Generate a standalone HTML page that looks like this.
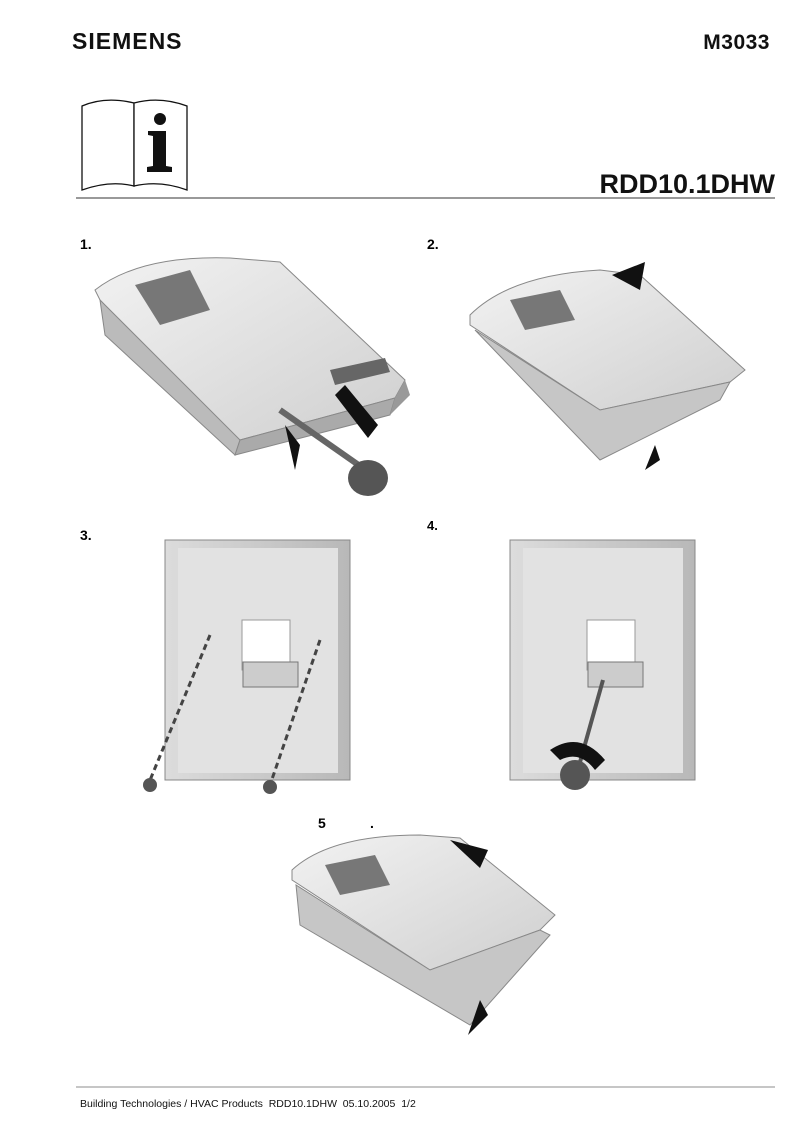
<!DOCTYPE html>
<html><head><meta charset="utf-8"><style>
html,body{margin:0;padding:0;background:#fff;}
svg{display:block}
text{font-family:"Liberation Sans",Arial,sans-serif;}
</style></head><body>
<svg width="802" height="1134" viewBox="0 0 802 1134" xmlns="http://www.w3.org/2000/svg">
<defs>
<linearGradient id="g1" x1="0" y1="0" x2="1" y2="1"><stop offset="0" stop-color="#f2f2f2"/><stop offset="1" stop-color="#cfcfcf"/></linearGradient>
<linearGradient id="g2" x1="0" y1="0" x2="1" y2="0"><stop offset="0" stop-color="#dcdcdc"/><stop offset="1" stop-color="#b8b8b8"/></linearGradient>
</defs>
<text x="72" y="49" font-size="23" font-weight="bold" fill="#111" letter-spacing="1">SIEMENS</text>
<text x="770" y="49" font-size="21" font-weight="bold" text-anchor="end" fill="#111" letter-spacing="0.5">M3033</text>
<!-- book -->
<path d="M82 106 Q105 96 134 103 L134 186 Q110 180 82 190 Z" fill="#fff" stroke="#111" stroke-width="1.3"/>
<path d="M134 103 Q160 96 187 106 L187 190 Q160 180 134 186 Z" fill="#fff" stroke="#111" stroke-width="1.3"/>
<circle cx="160" cy="119" r="6" fill="#111"/>
<path d="M148 131 L166 131 L166 166 L172 167 L172 172 L147 172 L147 167 L153 166 L153 136 L148 135 Z" fill="#111"/>
<text x="775" y="193" font-size="27" font-weight="bold" text-anchor="end" fill="#111">RDD10.1DHW</text>
<line x1="76" y1="198" x2="775" y2="198" stroke="#333" stroke-width="1"/>
<text x="80" y="249" font-size="14" font-weight="bold">1.</text>
<text x="427" y="249" font-size="14" font-weight="bold">2.</text>
<text x="80" y="540" font-size="14" font-weight="bold">3.</text>
<text x="427" y="530" font-size="13" font-weight="bold">4.</text>
<text x="318" y="828" font-size="14" font-weight="bold">5</text>
<text x="370" y="828" font-size="14" font-weight="bold">.</text>

<!-- device 1 -->
<path d="M95 290 Q140 255 230 258 L280 262 L405 380 L395 398 L240 440 L230 435 L100 300 Z" fill="url(#g1)" stroke="#888"/>
<path d="M100 300 L105 335 L235 455 L240 440 Z" fill="#bbb" stroke="#888"/>
<path d="M240 440 L235 455 L390 415 L395 398 Z" fill="#aaa" stroke="#888"/>
<path d="M395 398 L405 380 L410 395 L390 415 Z" fill="#999"/>
<path d="M135 285 L190 270 L210 310 L160 325 Z" fill="#777"/>
<path d="M330 370 L385 358 L390 372 L335 385 Z" fill="#666"/>
<path d="M280 410 L380 480" stroke="#666" stroke-width="6"/>
<ellipse cx="368" cy="478" rx="20" ry="18" fill="#555"/>
<path d="M335 395 L345 385 L378 425 L368 438 Z" fill="#111"/>
<path d="M285 425 L295 470 L300 445 Z" fill="#111"/>
<!-- device 2 -->
<path d="M470 315 Q510 275 600 270 L640 275 L745 370 L730 382 L600 410 L470 325 Z" fill="url(#g1)" stroke="#888"/>
<path d="M475 330 L600 460 L720 400 L730 382 L600 410 Z" fill="#c6c6c6" stroke="#888"/>
<path d="M510 300 L560 290 L575 320 L525 330 Z" fill="#777"/>
<path d="M612 275 L645 262 L640 290 Z" fill="#111"/>
<path d="M645 470 L655 445 L660 460 Z" fill="#111"/>
<!-- backplate 3 -->
<rect x="165" y="540" width="185" height="240" fill="url(#g2)" stroke="#888"/>
<rect x="178" y="548" width="160" height="225" fill="#e2e2e2"/>
<rect x="242" y="620" width="48" height="50" fill="#fff" stroke="#999"/>
<rect x="243" y="662" width="55" height="25" fill="#ccc" stroke="#777"/>
<line x1="210" y1="635" x2="148" y2="785" stroke="#444" stroke-width="3" stroke-dasharray="6,4"/>
<line x1="320" y1="640" x2="270" y2="785" stroke="#444" stroke-width="3" stroke-dasharray="6,4"/>
<circle cx="150" cy="785" r="7" fill="#555"/><circle cx="270" cy="787" r="7" fill="#555"/>
<!-- backplate 4 -->
<rect x="510" y="540" width="185" height="240" fill="url(#g2)" stroke="#888"/>
<rect x="523" y="548" width="160" height="225" fill="#e2e2e2"/>
<rect x="587" y="620" width="48" height="50" fill="#fff" stroke="#999"/>
<rect x="588" y="662" width="55" height="25" fill="#ccc" stroke="#777"/>
<path d="M603 680 L575 780" stroke="#555" stroke-width="4"/>
<ellipse cx="575" cy="775" rx="15" ry="15" fill="#555"/>
<path d="M550 750 Q580 730 605 760 L595 770 Q580 750 560 760 Z" fill="#111"/>
<!-- device 5 -->
<path d="M292 870 Q330 835 420 835 L460 838 L555 915 L540 930 L430 970 L292 880 Z" fill="url(#g1)" stroke="#888"/>
<path d="M296 885 L300 925 L470 1025 L550 935 L540 930 L430 970 Z" fill="#c6c6c6" stroke="#888"/>
<path d="M325 865 L375 855 L390 885 L340 895 Z" fill="#777"/>
<path d="M450 840 L488 850 L480 868 Z" fill="#111"/>
<path d="M480 1000 L468 1035 L488 1015 Z" fill="#111"/>

<line x1="76" y1="1087" x2="775" y2="1087" stroke="#666" stroke-width="0.8"/>
<text x="80" y="1107" font-size="10.5" fill="#111" xml:space="preserve">Building Technologies / HVAC Products  RDD10.1DHW  05.10.2005  1/2</text>
</svg>
</body></html>
